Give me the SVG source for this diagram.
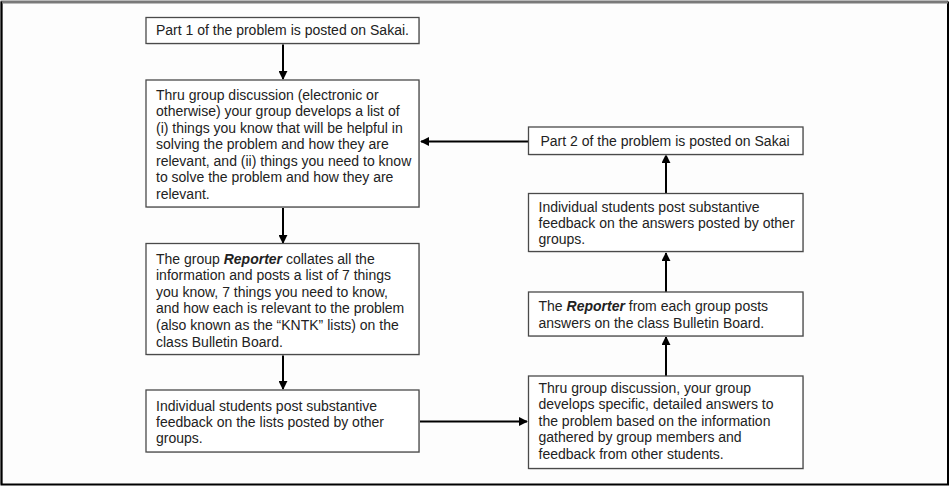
<svg xmlns="http://www.w3.org/2000/svg" width="950" height="486" viewBox="0 0 950 486">
<style>
.box{fill:#ffffff;stroke:#4a4a4a;stroke-width:1.3}
.sh{fill:#d8d8d8}
.t{font-family:"Liberation Sans",Arial,sans-serif;font-size:14px;fill:#222}
.b{font-weight:bold;font-style:italic}
.c{stroke:#000;stroke-width:2;fill:none;marker-end:url(#ah)}
</style>
<defs>
<marker id="ah" viewBox="0 0 10 10" refX="9" refY="5" markerWidth="4.5" markerHeight="4.5" orient="auto" markerUnits="strokeWidth">
<path d="M0,0 L10,5 L0,10 z" fill="#000"/>
</marker>
</defs>
<rect x="0" y="0" width="950" height="486" fill="#fdfdfd"/>
<path d="M1.5,484.5 L1.5,1.5 L948,1.5" fill="none" stroke="#777" stroke-width="2"/>
<path d="M1.5,1.5 L1.5,484.5 L948,484.5 L948,1.5" fill="none" stroke="#000" stroke-width="2"/>
<path d="M2,2.5 L948,2.5" stroke="#7a7a7a" stroke-width="2"/>

<g id="connectors">
<line class="c" x1="283" y1="44" x2="283" y2="79"/>
<line class="c" x1="283" y1="208" x2="283" y2="243"/>
<line class="c" x1="283" y1="355" x2="283" y2="389"/>
<line class="c" x1="420" y1="421.5" x2="527" y2="421.5"/>
<line class="c" x1="666" y1="376" x2="666" y2="337"/>
<line class="c" x1="666" y1="292" x2="666" y2="253"/>
<line class="c" x1="666" y1="193" x2="666" y2="155"/>
<line class="c" x1="528" y1="141.5" x2="421" y2="141.5"/>
</g>

<g id="n1">
<rect class="sh" x="147" y="18.5" width="273" height="26"/>
<rect class="box" x="146" y="17.5" width="273" height="26"/>
<text class="t" x="156" y="35">Part 1 of the problem is posted on Sakai.</text>
</g>

<g id="n2">
<rect class="sh" x="147" y="81" width="273" height="127"/>
<rect class="box" x="146" y="80" width="273" height="127"/>
<text class="t" x="156" y="99.5">Thru group discussion (electronic or</text>
<text class="t" x="156" y="116">otherwise) your group develops a list of</text>
<text class="t" x="156" y="132.5">(i) things you know that will be helpful in</text>
<text class="t" x="156" y="149">solving the problem and how they are</text>
<text class="t" x="156" y="165.5">relevant, and (ii) things you need to know</text>
<text class="t" x="156" y="182">to solve the problem and how they are</text>
<text class="t" x="156" y="198.5">relevant.</text>
</g>

<g id="n3">
<rect class="sh" x="147" y="244.5" width="273" height="111"/>
<rect class="box" x="146" y="243.5" width="273" height="111"/>
<text class="t" x="156" y="263.5">The group <tspan class="b">Reporter</tspan> collates all the</text>
<text class="t" x="156" y="280">information and posts a list of 7 things</text>
<text class="t" x="156" y="296.5">you know, 7 things you need to know,</text>
<text class="t" x="156" y="313">and how each is relevant to the problem</text>
<text class="t" x="156" y="330">(also known as the “KNTK” lists) on the</text>
<text class="t" x="156" y="346.5">class Bulletin Board.</text>
</g>

<g id="n4">
<rect class="sh" x="147" y="391" width="273" height="62"/>
<rect class="box" x="146" y="390" width="273" height="62"/>
<text class="t" x="156" y="411">Individual students post substantive</text>
<text class="t" x="156" y="427">feedback on the lists posted by other</text>
<text class="t" x="156" y="443">groups.</text>
</g>

<g id="n5">
<rect class="sh" x="529.5" y="377" width="274.5" height="92.5"/>
<rect class="box" x="528.5" y="376" width="274.5" height="92.5"/>
<text class="t" x="538.5" y="392.5">Thru group discussion, your group</text>
<text class="t" x="538.5" y="409">develops specific, detailed answers to</text>
<text class="t" x="538.5" y="425.5">the problem based on the information</text>
<text class="t" x="538.5" y="442">gathered by group members and</text>
<text class="t" x="538.5" y="458.5">feedback from other students.</text>
</g>

<g id="n6">
<rect class="sh" x="529.5" y="293" width="274.5" height="44"/>
<rect class="box" x="528.5" y="292" width="274.5" height="44"/>
<text class="t" x="538.5" y="311">The <tspan class="b">Reporter</tspan> from each group posts</text>
<text class="t" x="538.5" y="327.5">answers on the class Bulletin Board.</text>
</g>

<g id="n7">
<rect class="sh" x="529.5" y="194.5" width="274.5" height="58"/>
<rect class="box" x="528.5" y="193.5" width="274.5" height="58"/>
<text class="t" x="538.5" y="211.5">Individual students post substantive</text>
<text class="t" x="538.5" y="227.5">feedback on the answers posted by other</text>
<text class="t" x="538.5" y="243.5">groups.</text>
</g>

<g id="n8">
<rect class="sh" x="529.5" y="128" width="274.5" height="27.5"/>
<rect class="box" x="528.5" y="127" width="274.5" height="27.5"/>
<text class="t" x="540.5" y="146">Part 2 of the problem is posted on Sakai</text>
</g>
</svg>
